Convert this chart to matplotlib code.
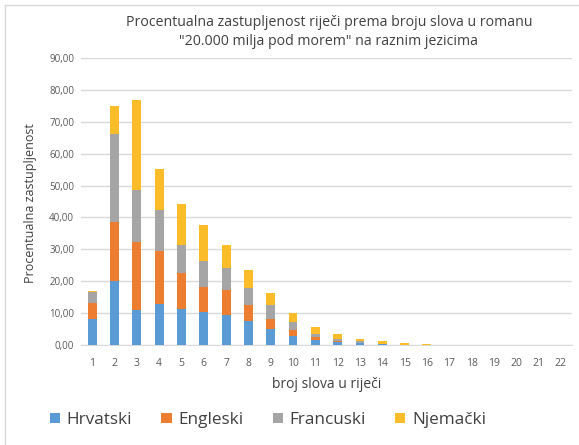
import matplotlib
matplotlib.use("Agg")
import matplotlib.pyplot as plt
from matplotlib.patches import Patch
from matplotlib.lines import Line2D
import numpy as np

plt.rcParams['font.family'] = ['Open Sans', 'DejaVu Sans']

letters = list(range(1, 23))
hrvatski = [8.3, 20.1, 11.0, 12.9, 11.35, 10.4, 9.3, 7.4, 5.0, 2.9, 1.6, 1.0, 0.55, 0.2, 0.05, 0.03,
            0.01, 0.01, 0.0, 0.0, 0.0, 0.0]
engleski = [4.9, 18.6, 21.3, 16.7, 11.15, 7.8, 7.9, 5.0, 3.0, 1.8, 0.8, 0.35, 0.15, 0.05, 0.02, 0.01,
            0.0, 0.0, 0.0, 0.0, 0.0, 0.0]
francuski = [3.4, 27.6, 16.45, 12.7, 8.75, 8.15, 7.0, 5.6, 4.5, 2.6, 1.1, 0.55, 0.4, 0.15, 0.05, 0.03,
             0.01, 0.01, 0.0, 0.0, 0.0, 0.0]
njemacki = [0.2, 8.65, 28.1, 13.0, 12.9, 11.25, 7.05, 5.5, 3.85, 2.8, 2.3, 1.4, 0.8, 0.75, 0.5, 0.35,
            0.06, 0.04, 0.03, 0.02, 0.01, 0.01]

series = [("Hrvatski", hrvatski, "#5B9BD5"),
          ("Engleski", engleski, "#ED7D31"),
          ("Francuski", francuski, "#A5A5A5"),
          ("Njemački", njemacki, "#FBBC2A")]

W, H = 579, 445
fig = plt.figure(figsize=(W / 100, H / 100), dpi=100)
ax = fig.add_axes([81 / W, 1 - 345 / H, (572 - 81) / W, (345 - 58) / H])

x = np.array(letters)
bottom = np.zeros(len(letters))
for name, vals, col in series:
    v = np.array(vals)
    ax.bar(x, v, width=0.4, bottom=bottom, color=col, label=name, zorder=3)
    bottom += v

ax.set_xlim(0.5, 22.5)
ax.set_ylim(0, 90)
yt = np.arange(0, 91, 10)
ax.set_yticks(yt)
ax.set_yticklabels([f"{v:.2f}".replace(".", ",") for v in yt], fontsize=7, color="#595959")
ax.set_xticks(x)
ax.set_xticklabels([str(v) for v in letters], fontsize=7.5, color="#595959")
ax.tick_params(length=0, pad=9)
ax.tick_params(axis='y', pad=5)
ax.grid(axis='y', color="#D9D9D9", linewidth=1, zorder=0)
for s in ["top", "right", "left"]:
    ax.spines[s].set_visible(False)
ax.spines["bottom"].set_color("#D9D9D9")
ax.spines["bottom"].set_zorder(1)

ax.set_xlabel("broj slova u riječi", fontsize=10, color="#404040", labelpad=6)
ax.set_ylabel("Procentualna zastupljenost", fontsize=9, color="#404040", labelpad=4)
ax.yaxis.set_label_coords((37 - 81) / (572 - 81), (345 - 203) / (345 - 58))

fig.text(329 / W, 1 - 32 / H,
         "Procentualna zastupljenost riječi prema broju slova u romanu\n\"20.000 milja pod morem\" na raznim jezicima",
         ha="center", va="center", fontsize=10.2, color="#404040", linespacing=1.4)

handles = [Patch(facecolor=c, edgecolor='none') for _, _, c in series]
fig.legend(handles, [n for n, _, _ in series], loc="center", ncol=4,
           bbox_to_anchor=(268 / W, 1 - 420 / H), frameon=False, fontsize=12.3,
           handlelength=0.6, handleheight=0.6, handletextpad=0.4, columnspacing=1.7,
           labelcolor="#404040")

# outer chart frame
fig.add_artist(Line2D([5 / W, 5 / W], [0, 1 - 5 / H], color="#D9D9D9", lw=1))
fig.add_artist(Line2D([5 / W, 1], [1 - 5 / H, 1 - 5 / H], color="#D9D9D9", lw=1))

fig.savefig("out.png", dpi=100, facecolor="white")
